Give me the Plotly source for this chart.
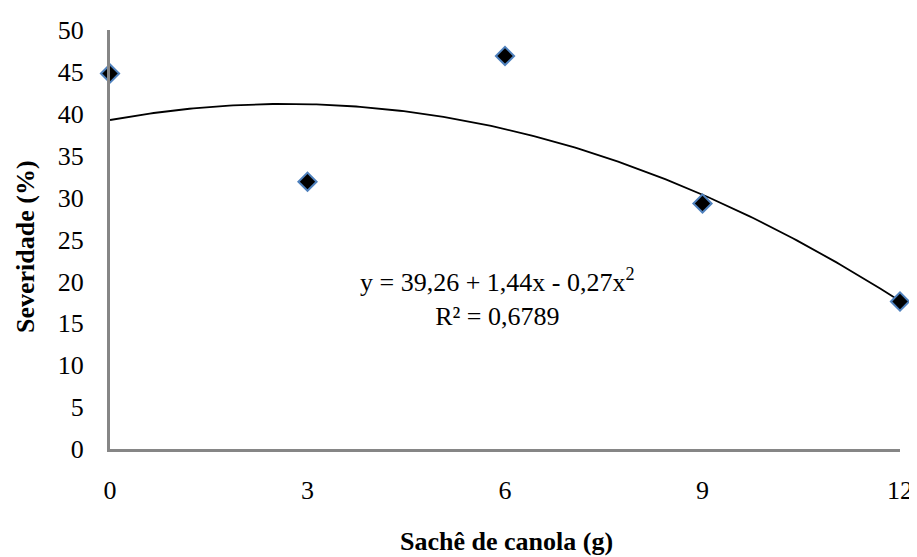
import numpy as np
import plotly.graph_objects as go

# Data
doses = [0, 3, 6, 9, 12]
severidade = [44.8, 31.9, 46.9, 29.3, 17.6]
coef = [39.26, 1.44, -0.27]  # trendline y = a + b x + c x^2
x_ticks = [0, 3, 6, 9, 12]
y_ticks = [0, 5, 10, 15, 20, 25, 30, 35, 40, 45, 50]

xs = np.linspace(0, 12, 200)
ys = coef[0] + coef[1] * xs + coef[2] * xs ** 2

FONT = "Liberation Serif"
W, H = 909, 549
ML, MR, MT, MB = 102, 17, 22, 108
OFF = 8  # page body margin
pw, ph = W - ML - MR, H - MT - MB


def px_to_paper(x, y):
    # window pixel coords -> paper coords
    return ((x - OFF) - ML) / pw, 1 - ((y - OFF) - MT) / ph


fig = go.Figure()
fig.add_trace(go.Scatter(x=xs, y=ys, mode="lines",
                         line=dict(color="black", width=1.8),
                         hoverinfo="skip", showlegend=False))
fig.add_trace(go.Scatter(x=doses, y=severidade, mode="markers",
                         marker=dict(symbol="diamond", size=14, color="black",
                                     line=dict(color="#4F81BD", width=2)),
                         cliponaxis=False, showlegend=False))

fig.add_annotation(x=5.88, y=18.1, xref="x", yref="y",
                   text="y = 39,26 + 1,44x - 0,27x<sup>2</sup><br>R² = 0,6789",
                   showarrow=False, align="center", yanchor="middle",
                   font=dict(family=FONT, size=26, color="black"))
tx, ty = px_to_paper(506, 541)
fig.add_annotation(x=tx, y=ty, xref="paper", yref="paper",
                   text="<b>Sachê de canola (g)</b>", showarrow=False,
                   xanchor="center", yanchor="middle",
                   font=dict(family=FONT, size=26, color="black"))
tx, ty = px_to_paper(25, 247)
fig.add_annotation(x=tx, y=ty, xref="paper", yref="paper",
                   text="<b>Severidade (%)</b>", textangle=-90, showarrow=False,
                   xanchor="center", yanchor="middle",
                   font=dict(family=FONT, size=26, color="black"))

fig.update_layout(
    width=W, height=H,
    margin=dict(l=ML, r=MR, t=MT, b=MB),
    paper_bgcolor="white", plot_bgcolor="white",
    font=dict(family=FONT, size=26, color="black"),
    xaxis=dict(range=[0, 12], tickvals=x_ticks, showgrid=False, zeroline=False,
               showline=True, linecolor="#868686", linewidth=3,
               ticks="outside", ticklen=16, tickcolor="rgba(0,0,0,0)",
               automargin=False),
    yaxis=dict(range=[0, 50], tickvals=y_ticks, showgrid=False, zeroline=False,
               showline=True, linecolor="#868686", linewidth=3,
               ticks="outside", ticklen=18, tickcolor="rgba(0,0,0,0)",
               automargin=False),
)

fig.write_html("out.html")
